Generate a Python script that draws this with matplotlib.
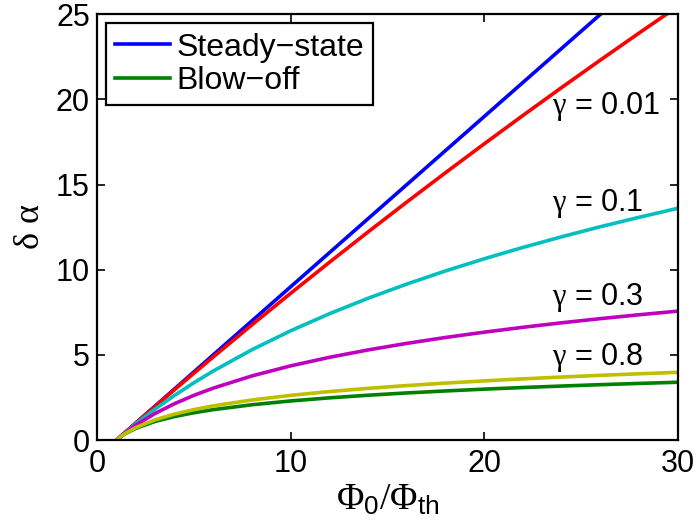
import matplotlib
matplotlib.use('Agg')
import matplotlib.pyplot as plt

plt.rcParams['font.family'] = ['Liberation Sans', 'DejaVu Sans']
plt.rcParams['mathtext.fontset'] = 'custom'
plt.rcParams['mathtext.rm'] = 'Liberation Serif'
plt.rcParams['mathtext.it'] = 'Liberation Serif'
plt.rcParams['mathtext.sf'] = 'Liberation Sans'

# phi0/phi_th sample points
phi = [1, 1.25, 1.5, 2, 3, 4, 5, 6, 8, 10, 12, 14, 16, 18, 20, 22, 24, 26, 28, 30]

steady_x = [1, 26]
steady_y = [0, 25]

blowoff = [0, 0.223, 0.405, 0.693, 1.099, 1.386, 1.609, 1.792, 2.079, 2.303,
           2.485, 2.639, 2.773, 2.890, 2.996, 3.091, 3.178, 3.258, 3.332, 3.401]
g001 = [0, 0.250, 0.499, 0.995, 1.980, 2.956, 3.922, 4.879, 6.766, 8.618,
        10.436, 12.222, 13.976, 15.700, 17.395, 19.062, 20.701, 22.314, 23.902, 25.464]
g01 = [0, 0.247, 0.488, 0.953, 1.823, 2.624, 3.365, 4.055, 5.306, 6.419,
       7.419, 8.329, 9.163, 9.933, 10.647, 11.314, 11.939, 12.528, 13.083, 13.610]
g03 = [0, 0.241, 0.466, 0.875, 1.567, 2.140, 2.628, 3.054, 3.771, 4.361,
       4.862, 5.297, 5.682, 6.028, 6.340, 6.626, 6.890, 7.134, 7.361, 7.574]
g08 = [0, 0.228, 0.421, 0.735, 1.194, 1.530, 1.794, 2.012, 2.359, 2.630,
       2.853, 3.042, 3.206, 3.351, 3.481, 3.599, 3.707, 3.806, 3.897, 3.983]

gamma_labels = ['0.01', '0.1', '0.3', '0.8']
label_y = [19.6, 13.9, 8.35, 4.85]

fig = plt.figure(figsize=(6.97, 5.31), dpi=100)
ax = fig.add_axes([0.139, 0.171, 0.834, 0.8025])

lw = 2.6
ax.plot(steady_x, steady_y, color=(0, 0, 1), lw=lw, label='Steady\u2212state')
ax.plot(phi, blowoff, color=(0, 0.5, 0), lw=lw, label='Blow\u2212off')
ax.plot(phi, g001, color=(1, 0, 0), lw=lw)
ax.plot(phi, g01, color=(0, 0.75, 0.75), lw=lw)
ax.plot(phi, g03, color=(0.75, 0, 0.75), lw=lw)
ax.plot(phi, g08, color=(0.75, 0.75, 0), lw=lw)

for lab, yy in zip(gamma_labels, label_y):
    ax.text(23.5, yy, r'$\gamma$ = ' + lab, fontsize=22, ha='left', va='center')

ax.set_xlim(0, 30)
ax.set_ylim(0, 25)
ax.set_xticks([0, 10, 20, 30])
ax.set_yticks([0, 5, 10, 15, 20, 25])
ax.tick_params(direction='in', top=True, right=True, length=6, width=1.2,
               labelsize=22)
ax.tick_params(axis='x', pad=6)
ax.tick_params(axis='y', pad=5)
for s in ax.spines.values():
    s.set_linewidth(1.6)

ax.set_xlabel(r'$\Phi_{\mathsf{0}}/\Phi_{\mathsf{th}}$', fontsize=27, labelpad=2)
ax.set_ylabel('$\\delta\\ \\alpha$', fontsize=26, labelpad=6)

leg = ax.legend(loc='upper left', fontsize=23, fancybox=False, handlelength=1.7,
                borderpad=0.3, labelspacing=0.1, handletextpad=0.2,
                borderaxespad=0.28)
leg.get_frame().set_edgecolor('black')
leg.get_frame().set_linewidth(1.6)
leg.get_frame().set_alpha(1)

fig.savefig('out.png', dpi=100)
